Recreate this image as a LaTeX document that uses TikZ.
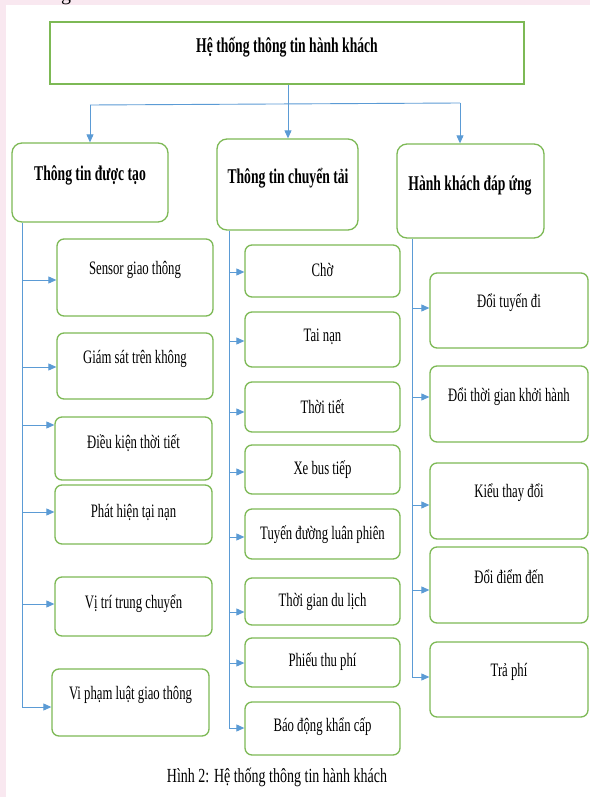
\documentclass[tikz,border=0pt]{standalone}
\usepackage{fontspec}
\setmainfont{Liberation Serif}
\usetikzlibrary{arrows.meta}
\definecolor{gr}{RGB}{125,185,85}
\definecolor{bl}{RGB}{91,155,213}
\definecolor{pk}{RGB}{249,232,240}
\newcommand{\ctx}[1]{\scalebox{0.67}[1]{\fontsize{19}{22}\selectfont #1}}
\newcommand{\htx}[1]{\scalebox{0.65}[1]{\fontsize{21}{24}\selectfont\bfseries #1}}
\newcommand{\captx}[1]{\scalebox{0.7}[1]{\fontsize{20}{23}\selectfont #1}}
\tikzset{
  cbox/.style={draw=gr, line width=1.3pt, rounded corners=7pt, inner sep=0pt, fill=white},
  hbox/.style={draw=gr, line width=1.3pt, rounded corners=10pt, inner sep=0pt, fill=white},
  tbox/.style={draw=gr, line width=2pt, inner sep=0pt, fill=white},
  txt/.style={inner sep=0pt},
  ln/.style={draw=bl, line width=0.9pt},
  arr/.style={ln, -{Triangle[length=8pt,width=7pt]}}
}
\begin{document}
\begin{tikzpicture}[x=1pt,y=-1pt]
\useasboundingbox (0,0) rectangle (590,797);
\fill[pk] (0,0) rectangle (590,797);
\fill[white] (6,5) rectangle (590,797);
\begin{scope}
\clip (0,0) rectangle (590,5);
\node[txt, anchor=base] (gfrag) at (66,0.5) {\fontsize{20}{23}\selectfont g};
\end{scope}

% title
\node[tbox, minimum width=474, minimum height=62] (top) at (287,53) {};
\node[txt] (topt) at (287,47) {\htx{Hệ thống thông tin hành khách}};

% headers
\node[hbox, minimum width=156, minimum height=79] (lh) at (90,182.5) {};
\node[txt] (lht) at (90,175) {\htx{Thông tin được tạo}};
\node[hbox, minimum width=141, minimum height=91] (mh) at (287.5,184.5) {};
\node[txt] (mht) at (288,178) {\htx{Thông tin chuyển tải}};
\node[hbox, minimum width=147, minimum height=94] (rh) at (470.5,191) {};
\node[txt] (rht) at (470,186) {\htx{Hành khách đáp ứng}};

% left children
\node[cbox, minimum width=156, minimum height=77] (s1) at (135,277.5) {};
\node[txt] (s1t) at (135,270) {\ctx{Sensor giao thông}};
\node[cbox, minimum width=156, minimum height=66] (s2) at (135,366) {};
\node[txt] (s2t) at (135,359) {\ctx{Giám sát trên không}};
\node[cbox, minimum width=157, minimum height=63] (s3) at (133.5,448.5) {};
\node[txt] (s3t) at (133.5,443) {\ctx{Điều kiện thời tiết}};
\node[cbox, minimum width=157, minimum height=59] (s4) at (133.5,514.5) {};
\node[txt] (s4t) at (133.5,512) {\ctx{Phát hiện tại nạn}};
\node[cbox, minimum width=157, minimum height=59] (s5) at (133.5,606.5) {};
\node[txt] (s5t) at (133.5,604) {\ctx{Vị trí trung chuyển}};
\node[cbox, minimum width=157, minimum height=67] (s6) at (130.5,702.5) {};
\node[txt] (s6t) at (130.5,695) {\ctx{Vi phạm luật giao thông}};

% middle children
\node[cbox, minimum width=155, minimum height=52] (m1) at (322.5,271) {};
\node[txt] (m1t) at (322.5,270) {\ctx{Chờ}};
\node[cbox, minimum width=155, minimum height=55] (m2) at (322.5,339.5) {};
\node[txt] (m2t) at (322.5,337) {\ctx{Tai nạn}};
\node[cbox, minimum width=155, minimum height=50] (m3) at (322.5,407) {};
\node[txt] (m3t) at (322.5,407) {\ctx{Thời tiết}};
\node[cbox, minimum width=155, minimum height=49] (m4) at (322.5,469.5) {};
\node[txt] (m4t) at (322.5,470) {\ctx{Xe bus tiếp}};
\node[cbox, minimum width=155, minimum height=50] (m5) at (322.5,534) {};
\node[txt] (m5t) at (322.5,535) {\ctx{Tuyến đường luân phiên}};
\node[cbox, minimum width=155, minimum height=47] (m6) at (322.5,601.5) {};
\node[txt] (m6t) at (322.5,602) {\ctx{Thời gian du lịch}};
\node[cbox, minimum width=155, minimum height=49] (m7) at (322.5,662.5) {};
\node[txt] (m7t) at (322.5,662) {\ctx{Phiếu thu phí}};
\node[cbox, minimum width=155, minimum height=53] (m8) at (322.5,728.5) {};
\node[txt] (m8t) at (322.5,727) {\ctx{Báo động khẩn cấp}};

% right children
\node[cbox, minimum width=158, minimum height=75] (r1) at (509,310.5) {};
\node[txt] (r1t) at (509,303) {\ctx{Đổi tuyến đi}};
\node[cbox, minimum width=158, minimum height=76] (r2) at (509,404) {};
\node[txt] (r2t) at (509,397) {\ctx{Đổi thời gian khởi hành}};
\node[cbox, minimum width=158, minimum height=76] (r3) at (509,501) {};
\node[txt] (r3t) at (509,493) {\ctx{Kiểu thay đổi}};
\node[cbox, minimum width=158, minimum height=76] (r4) at (509,585) {};
\node[txt] (r4t) at (509,577) {\ctx{Đổi điểm đến}};
\node[cbox, minimum width=158, minimum height=75] (r5) at (509,679.5) {};
\node[txt] (r5t) at (509,672) {\ctx{Trả phí}};

% caption
\node[txt] (cap) at (277,777) {\captx{Hình 2: Hệ thống thông tin hành khách}};

% top connectors
\coordinate (j) at (288,104);
\coordinate (jl) at (90,105);
\coordinate (jr) at (460,103);
\draw[ln] (top.south -| j) -- (j);
\draw[ln] (jl) -- (jr);
\draw[arr] (jl) -- (lh.north -| jl);
\draw[arr] (j) -- (mh.north -| j);
\draw[arr] (jr) -- (rh.north -| jr);

% left trunk
\coordinate (a1) at (22,280);
\coordinate (a2) at (22,367);
\coordinate (a3) at (22,425);
\coordinate (a4) at (22,512);
\coordinate (a5) at (22,604);
\coordinate (a6) at (22,707);
\draw[ln] (lh.south -| a1) -- (a6);
\foreach \i in {1,...,6} \draw[arr] (a\i) -- (s\i.west |- a\i);

% middle trunk
\coordinate (b1) at (229,272);
\coordinate (b2) at (229,341);
\coordinate (b3) at (229,412);
\coordinate (b4) at (229,472);
\coordinate (b5) at (229,537);
\coordinate (b6) at (229,612);
\coordinate (b7) at (229,663);
\coordinate (b8) at (229,728);
\draw[ln] (mh.south -| b1) -- (b8);
\foreach \i in {1,...,8} \draw[arr] (b\i) -- (m\i.west |- b\i);

% right trunk
\coordinate (c1) at (412,308);
\coordinate (c2) at (412,397);
\coordinate (c3) at (412,505);
\coordinate (c4) at (412,590);
\coordinate (c5) at (412,677);
\draw[ln] (rh.south -| c1) -- (c5);
\foreach \i in {1,...,5} \draw[arr] (c\i) -- (r\i.west |- c\i);
\end{tikzpicture}
\end{document}
